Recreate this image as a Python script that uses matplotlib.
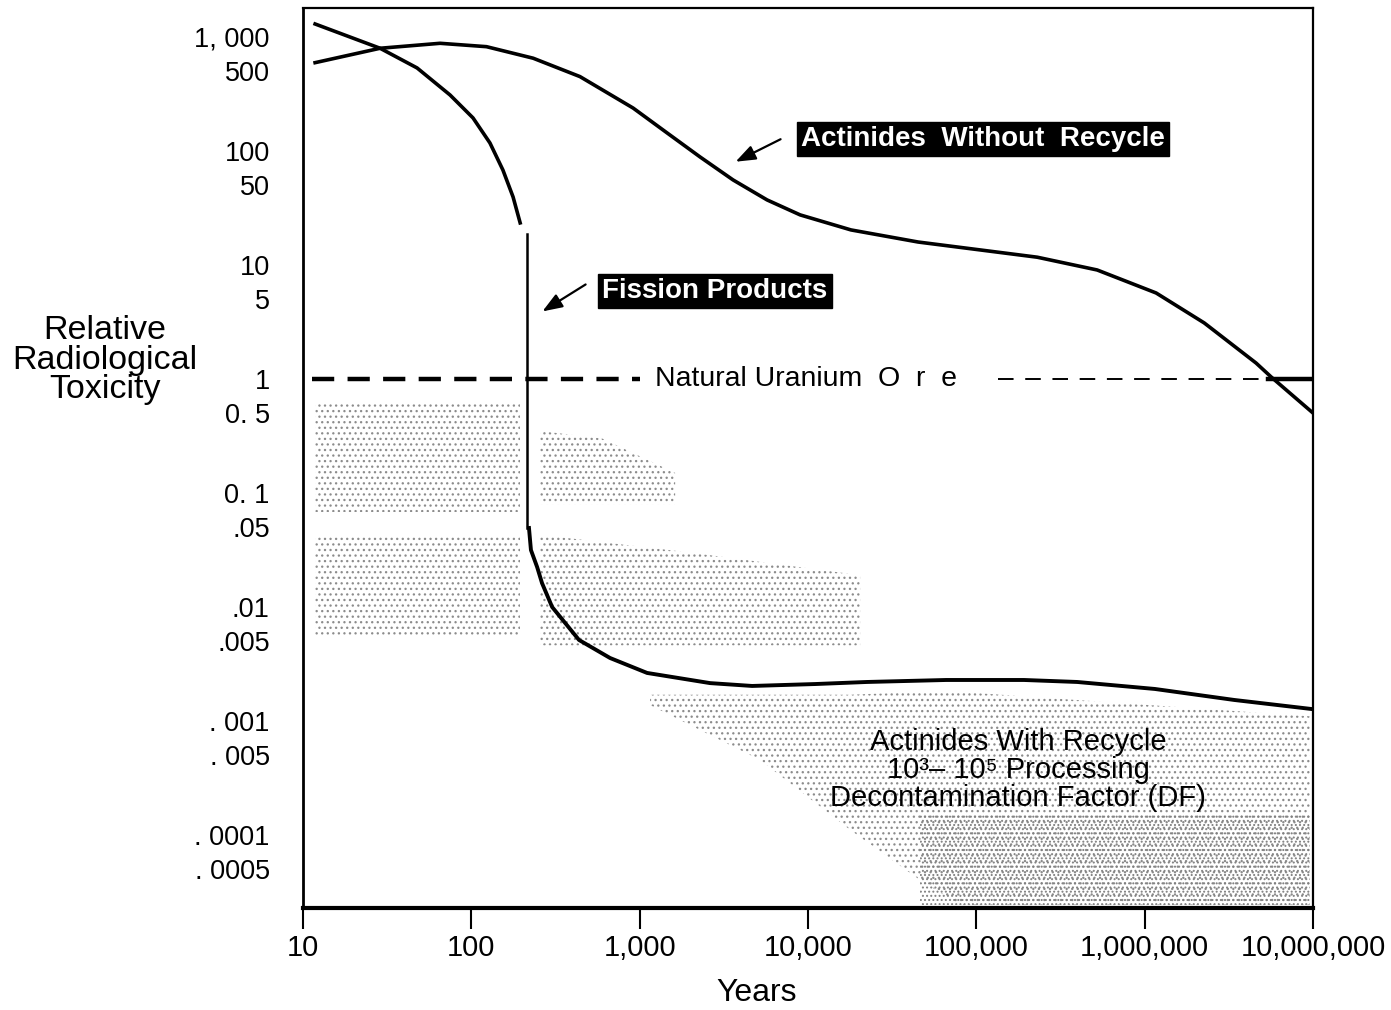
import matplotlib.pyplot as plt

# values (years, relative toxicity)
wo_years = [11.8, 28.7, 65.2, 123, 233, 442, 914, 1455, 2285, 3589, 5715, 8980,
            18000, 45100, 230000, 522000, 1170000, 2260000, 4590000, 5650000, 10000000]
wo_tox = [595, 796, 880, 822, 651, 449, 238, 144, 88.6, 55.7, 37.2, 27.5,
          20.3, 15.9, 11.7, 9.04, 5.68, 3.10, 1.38, 1.04, 0.503]

fp_years = [11.8, 28.7, 47.6, 74.7, 102.3, 129, 154, 177, 195]
fp_tox = [1300, 796, 535, 310, 195, 117.5, 68.1, 39.5, 23.4]

step_years = [214, 214]
step_tox = [18.7, 0.0493]

rc_years = [220, 226, 246, 263, 302, 436, 667, 1107, 2620, 4656, 11020, 22440,
            66200, 192000, 397000, 1150000, 3400000, 10000000]
rc_tox = [0.0493, 0.0316, 0.0224, 0.0162, 0.0100, 0.00514, 0.00357, 0.00264,
          0.00215, 0.00203, 0.00211, 0.00220, 0.00229, 0.00229, 0.00220,
          0.00191, 0.00153, 0.00127]

# stippled bands (x, lower, upper)
band1 = ([11.8, 195], [0.068, 0.068], [0.6, 0.6])
band2 = ([256, 600, 1625], [0.08, 0.08, 0.08], [0.35, 0.3, 0.15])
band3 = ([11.8, 195], [0.0055, 0.0055], [0.043, 0.043])
band4 = ([256, 2000, 20400], [0.0046, 0.0046, 0.0046], [0.043, 0.03, 0.019])
band5 = ([1153, 5200, 17800, 46300, 80200, 9600000],
         [0.00138, 0.000455, 0.000111, 4.03e-5, 2.43e-5, 2.43e-5],
         [0.0017, 0.0017, 0.0017, 0.0018, 0.0018, 0.0011])
band6 = ([46300, 9600000], [2.43e-5, 2.43e-5], [0.00015, 0.00015])

xticks = [10, 100, 1000, 10000, 100000, 1000000, 10000000]
xlabels = ['10', '100', '1,000', '10,000', '100,000', '1,000,000', '10,000,000']
yticks = [1000, 500, 100, 50, 10, 5, 1, 0.5, 0.1, 0.05, 0.01, 0.005,
          0.001, 0.0005, 0.0001, 0.00005]
ylabels = ['1, 000', '500', '100', '50', '10', '5', '1', '0. 5', '0. 1', '.05',
           '.01', '.005', '. 001', '. 005', '. 0001', '. 0005']

plt.rcParams['font.family'] = ['Liberation Sans', 'DejaVu Sans']
plt.rcParams['hatch.linewidth'] = 0.9

fig = plt.figure(figsize=(13.91, 10.10), dpi=100)
ax = fig.add_axes([303 / 1391, 1 - 908 / 1010, 1010 / 1391, 900 / 1010])
ax.set_xscale('log')
ax.set_yscale('log')
ax.set_xlim(10, 1e7)
ax.set_ylim(2.29e-5, 1795)

for xs, lo, hi in [band1, band2, band3, band4, band5]:
    ax.fill_between(xs, lo, hi, facecolor='none', edgecolor='#8c8c8c',
                    hatch='...', linewidth=0)
ax.fill_between(band6[0], band6[1], band6[2], facecolor='none',
                edgecolor='#808080', hatch='....', linewidth=0)

ax.plot(wo_years, wo_tox, color='black', lw=2.6, solid_joinstyle='round')
ax.plot(fp_years, fp_tox, color='black', lw=2.6, solid_joinstyle='round')
ax.plot(step_years, step_tox, color='black', lw=1.8)
ax.plot(rc_years, rc_tox, color='black', lw=2.8, solid_joinstyle='round')

# natural uranium ore reference
ax.plot([11.3, 1000], [1, 1], color='black', lw=3.2, dashes=(5, 3))
ax.plot([135000, 5400000], [1, 1], color='black', lw=1.4, dashes=(8, 6))
ax.plot([5400000, 9600000], [1, 1], color='black', lw=3.2)
ax.text(1230, 1, 'Natural Uranium  O  r  e', fontsize=20.5, va='center', ha='left')

ax.annotate('', xy=(3590, 78.5), xytext=(7110, 130),
            arrowprops=dict(arrowstyle='-|>,head_length=1.2,head_width=0.45',
                            color='black', lw=1.6))
ax.text(110000, 127, 'Actinides  Without  Recycle', fontsize=20, fontweight='bold',
        color='white', ha='center', va='center',
        bbox=dict(facecolor='black', edgecolor='black', pad=3))

ax.annotate('', xy=(256, 3.8), xytext=(493, 6.95),
            arrowprops=dict(arrowstyle='-|>,head_length=1.2,head_width=0.45',
                            color='black', lw=1.6))
ax.text(2805, 5.9, 'Fission Products', fontsize=20, fontweight='bold',
        color='white', ha='center', va='center',
        bbox=dict(facecolor='black', edgecolor='black', pad=3))

ax.text(177000, 0.00037,
        'Actinides With Recycle\n10³– 10⁵ Processing\nDecontamination Factor (DF)',
        fontsize=21, ha='center', va='center', linespacing=1.0)

ax.set_xticks(xticks)
ax.set_xticklabels(xlabels)
ax.set_yticks(yticks)
ax.set_yticklabels(ylabels)
ax.minorticks_off()
ax.tick_params(axis='x', direction='out', length=15, width=1.5, labelsize=21, pad=4)
ax.tick_params(axis='y', length=0, labelsize=19.5, pad=24)

ax.spines['left'].set_linewidth(2.0)
ax.spines['top'].set_linewidth(1.6)
ax.spines['right'].set_linewidth(1.6)
ax.spines['bottom'].set_linewidth(3.0)

fig.text(105 / 1391, 1 - 360 / 1010, 'Relative\nRadiological\nToxicity', fontsize=24.5,
         ha='center', va='center', linespacing=0.95)
fig.text(757 / 1391, 1 - 993 / 1010, 'Years', fontsize=23, ha='center', va='center')

fig.savefig('out.png', dpi=100)
